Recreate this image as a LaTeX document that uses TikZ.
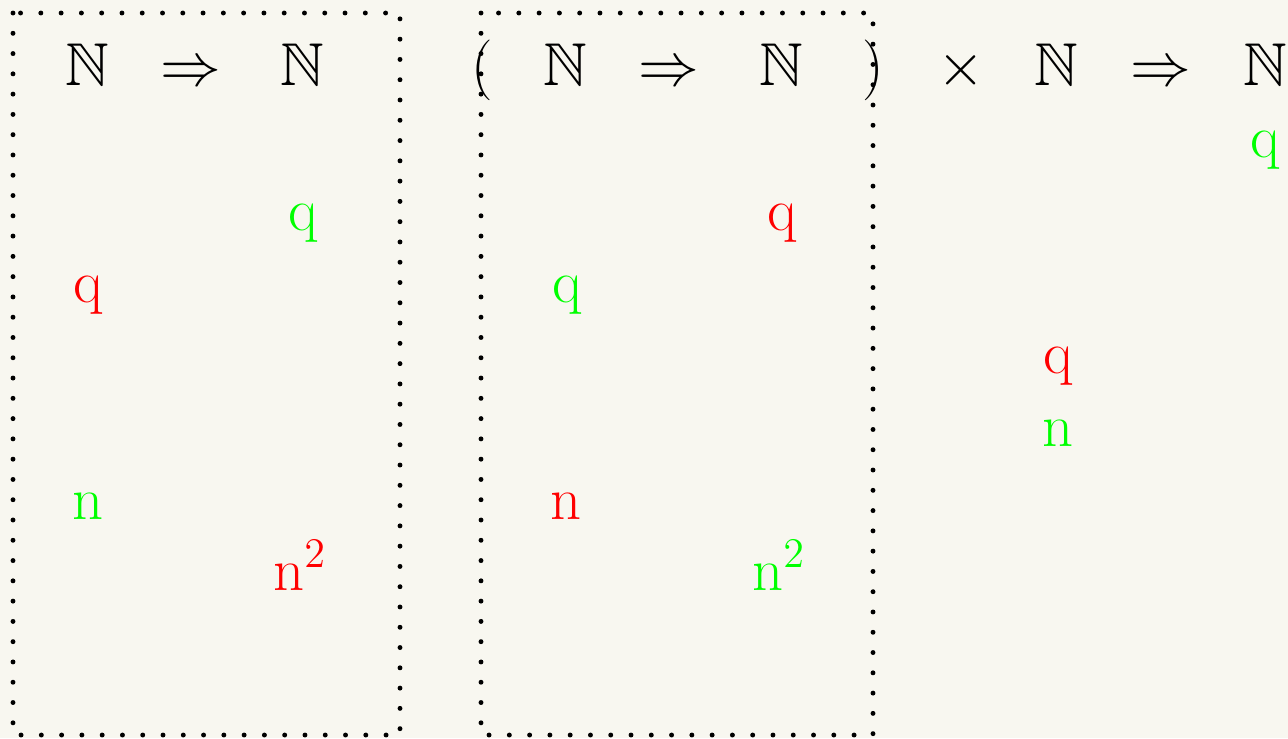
\documentclass[tikz,border=0pt]{standalone}
\usepackage{amsmath}
\usepackage{amssymb}
\usepackage{tikz}

\definecolor{paper}{RGB}{248,247,240}

\begin{document}
\begin{tikzpicture}[font=\fontsize{17.2}{20}\selectfont,
        every node/.style={anchor=base, inner sep=0pt},
        dotbox/.style={line width=1.4pt, line cap=round, dash pattern=on 0pt off 5.77pt}]
        \clip (0,0) rectangle (12.88,-7.38);
        \fill[paper] (0,0) rectangle (12.88,-7.38);
        \draw[dotbox] (0.13,-0.13) rectangle (4.00,-7.35);
        \draw[dotbox] (4.81,-0.13) rectangle (8.73,-7.35);
        % type line
        \node (dom1) at (0.87,-0.85) {$\mathbb{N}$};
        \node (arr1) at (1.91,-0.85) {$\Rightarrow$};
        \node (cod1) at (3.02,-0.85) {$\mathbb{N}$};
        \node (lpar) at (4.82,-0.85) {$($};
        \node (dom2) at (5.65,-0.85) {$\mathbb{N}$};
        \node (arr2) at (6.69,-0.85) {$\Rightarrow$};
        \node (cod2) at (7.81,-0.85) {$\mathbb{N}$};
        \node (rpar) at (8.73,-0.85) {$)$};
        \node (prod) at (9.61,-0.85) {$\times$};
        \node (dom3) at (10.56,-0.85) {$\mathbb{N}$};
        \node (arr3) at (11.61,-0.85) {$\Rightarrow$};
        \node (cod3) at (12.65,-0.85) {$\mathbb{N}$};
        % first box
        \node[green] (qa1) at (3.03,-2.30) {$\mathrm{q}$};
        \node[red]   (qb1) at (0.88,-3.02) {$\mathrm{q}$};
        \node[green] (n1)  at (0.88,-5.19) {$\mathrm{n}$};
        \node[red]   (sq1) at (3.00,-5.90) {$\mathrm{n}^2$};
        % second box
        \node[red]   (qa2) at (7.82,-2.30) {$\mathrm{q}$};
        \node[green] (qb2) at (5.67,-3.02) {$\mathrm{q}$};
        \node[red]   (n2)  at (5.66,-5.19) {$\mathrm{n}$};
        \node[green] (sq2) at (7.79,-5.90) {$\mathrm{n}^2$};
        % outside
        \node[green] (qa3) at (12.65,-1.57) {$\mathrm{q}$};
        \node[red]   (qb3) at (10.58,-3.73) {$\mathrm{q}$};
        \node[green] (n3)  at (10.58,-4.46) {$\mathrm{n}$};
\end{tikzpicture}
\end{document}
